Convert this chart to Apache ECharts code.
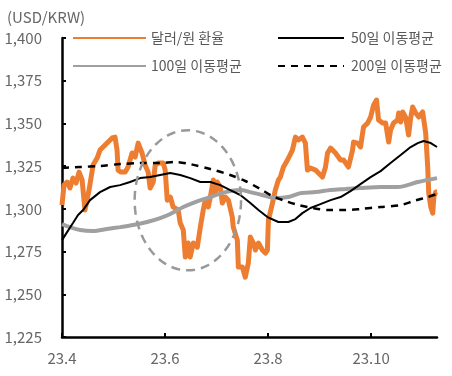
<!DOCTYPE html>
<html>
<head>
<meta charset="utf-8">
<script src="https://cdn.jsdelivr.net/npm/echarts@6/dist/echarts.min.js"></script>
<style>
html,body{margin:0;padding:0;background:#fff;}
#chart{width:452px;height:376px;}
</style>
</head>
<body>
<div id="chart"></div>
<script>
// x = days since 2023-04-01
const xTickDays = [0, 61, 122, 183];
const xTickLabels = ['23.4', '23.6', '23.8', '23.10'];
const seriesNames = ['달러/원 환율', '50일 이동평균', '100일 이동평균', '200일 이동평균'];

const fxRate = [[0,1302.2],[1.2,1313.9],[3,1315.7],[4.7,1312.2],[6.5,1318],[8.3,1315.1],[10.1,1321.5],[11.9,1316.9],[13.6,1299.3],[16,1311],[18.4,1325.6],[20.8,1329.7],[22.5,1334.4],[24.3,1336.2],[26.7,1338.5],[29.7,1341.5],[31.4,1342],[32.6,1334.4],[33.2,1322.7],[35,1321.5],[37.4,1321.5],[39.1,1324.5],[41.5,1332.7],[43.3,1330.3],[45.1,1338.5],[47.4,1332.7],[49.2,1325.6],[51,1321.5],[52.2,1312.2],[54,1315.7],[55.2,1325.6],[56.9,1326.8],[59.9,1326.8],[61.1,1322.7],[62.3,1305.1],[64.1,1306.9],[65.8,1301.1],[68.8,1299.3],[70,1291.7],[71.8,1287.6],[73,1271.8],[74.7,1280],[75.9,1271.8],[77.7,1280],[80.1,1277.6],[81.9,1289.3],[83.6,1299.3],[84.8,1305.1],[86.6,1301.1],[87.8,1306.9],[89.6,1316.9],[90.7,1309.2],[91.9,1315.7],[93.7,1312.8],[94.9,1303.4],[96.7,1306.9],[98.5,1305.1],[100.8,1295.2],[101.4,1289.3],[103.8,1281.7],[104.4,1265.9],[106.8,1265.9],[108.5,1260],[110.3,1268.3],[111.5,1283.5],[113.3,1280],[114.5,1275.9],[116.3,1280],[118.6,1275.9],[120.4,1274.1],[121.6,1275.9],[122.2,1293.4],[124.6,1303.4],[126.3,1311],[128.1,1316.9],[129.3,1318.6],[131.1,1324.5],[133.5,1328.6],[136.4,1334.4],[138.2,1342],[140,1340.3],[142.3,1342],[144.1,1338.5],[145.3,1322.7],[147.1,1323.9],[150.1,1322.7],[151.8,1321],[154.2,1318.6],[156,1324.5],[157.2,1332.7],[159,1335.6],[161.9,1332.7],[164.9,1328.6],[166.7,1328.6],[169.6,1324.5],[172,1334.4],[172.6,1339.1],[175,1338.5],[176.7,1336.2],[178.5,1347.9],[180.9,1350.2],[182.7,1353.7],[184.5,1360.8],[186.2,1363.7],[187.4,1352],[189.8,1350.2],[191.6,1350.2],[193.4,1339.1],[194.5,1346.1],[196.3,1350.2],[198.7,1352],[199.3,1356.1],[200.5,1350.8],[201.7,1356.7],[203.4,1353.7],[205.2,1343.2],[206.4,1353.2],[207.6,1359.6],[209.4,1356.1],[211.2,1353.7],[213.5,1356.7],[215.3,1344.4],[216.5,1324.5],[217.1,1309.3],[218.3,1301.1],[219.5,1297.5],[220.1,1306.9],[221.2,1309.8],[222,1309.8]];

const ma50 = [[0,1281.7],[3,1286.4],[6.5,1291.7],[9.5,1296.4],[12.5,1299.3],[16.6,1305.1],[22.5,1309.8],[28.5,1312.8],[34.4,1313.9],[40.3,1315.7],[46.3,1318],[52.2,1318.6],[58.1,1319.8],[64.1,1321],[70,1319.8],[75.9,1318],[81.9,1315.7],[87.8,1315.7],[93.7,1313.9],[99.6,1311],[105.6,1308.1],[111.5,1303.4],[116.3,1299.3],[121.6,1295.2],[128.1,1292.3],[134,1292.3],[138.2,1294],[142.3,1297.5],[147.1,1300.5],[153,1302.8],[159,1305.1],[164.9,1306.9],[170.8,1310.4],[176.7,1314.5],[182.7,1318.6],[188.6,1322.1],[194.5,1326.8],[200.5,1331.5],[206.4,1336.2],[210.6,1338.5],[214.1,1339.7],[218.3,1338.5],[222,1336.2]];

const ma100 = [[0,1291.1],[4.7,1289.3],[10.7,1287.6],[18.4,1287],[26.7,1288.2],[34.4,1289.3],[42.1,1290.5],[50.4,1292.3],[58.1,1294.6],[64.1,1297],[71.8,1301.1],[78.9,1304],[87.8,1306.9],[96.7,1309.8],[105.6,1311],[111.5,1309.8],[118.6,1308.1],[126.3,1306.3],[134,1306.9],[141.2,1309.2],[150.1,1309.8],[159,1311],[167.9,1311.6],[176.7,1312.2],[188.6,1312.8],[198.7,1312.8],[210.6,1315.7],[222,1318]];

const ma200 = [[0,1323.9],[10.7,1324.5],[22.5,1325.1],[34.4,1326.2],[46.3,1326.8],[58.1,1326.8],[67,1327.4],[75.9,1326.2],[87.8,1323.3],[99.6,1319.8],[108.5,1316.3],[117.4,1311.6],[124.6,1307.5],[132.3,1304.6],[140,1302.2],[148.3,1300.5],[157.8,1299.3],[167.9,1299.3],[176.7,1299.9],[188.6,1301.1],[200.5,1302.2],[208.2,1304.6],[216.5,1306.9],[222,1308.7]];

// highlighted region (ellipse annotation) in data units: center day, center value, half-width days, half-height value
const highlight = {cx: 74.5, cy: 1305, rx: 31.5, ry: 41};

const FONT = '"Noto Sans CJK KR", "Noto Sans", sans-serif';
const chart = echarts.init(document.getElementById('chart'), null, {renderer: 'canvas'});

const legendText = {color: '#595959', fontSize: 14, fontFamily: FONT};
const option = {
  animation: false,
  backgroundColor: '#fff',
  title: {
    text: '(USD/KRW)', left: 2, top: 5,
    textStyle: {color: '#666', fontSize: 15, fontWeight: 'normal', fontFamily: FONT}
  },
  grid: {left: 62, top: 38, right: 15, bottom: 39, containLabel: false},
  legend: [
    {orient: 'vertical', left: 67, top: 26, itemWidth: 73, itemHeight: 14, itemGap: 14,
     itemStyle: {opacity: 0}, textStyle: legendText, data: [seriesNames[0], seriesNames[2]]},
    {orient: 'vertical', left: 272, top: 26, itemWidth: 66, itemHeight: 14, itemGap: 14,
     itemStyle: {opacity: 0}, textStyle: Object.assign({}, legendText, {padding: [0, 0, 0, 2]}),
     data: [seriesNames[1], seriesNames[3]]}
  ],
  xAxis: {
    type: 'value', min: 0, max: 222, interval: 61,
    axisLine: {show: true, lineStyle: {color: '#000', width: 2.5}},
    axisTick: {show: true, inside: true, length: 4, lineStyle: {color: '#000', width: 2}, customValues: xTickDays},
    axisLabel: {
      color: '#666', fontSize: 15, fontFamily: FONT, margin: 14, customValues: xTickDays,
      formatter: v => { const i = xTickDays.indexOf(Math.round(v)); return i >= 0 ? xTickLabels[i] : ''; }
    },
    splitLine: {show: false}
  },
  yAxis: {
    type: 'value', min: 1225, max: 1400, interval: 25,
    axisLine: {show: true, lineStyle: {color: '#000', width: 2.5}},
    axisTick: {show: true, inside: true, length: 4, lineStyle: {color: '#000', width: 2}},
    axisLabel: {color: '#666', fontSize: 15, fontFamily: FONT, margin: 20,
      formatter: v => v.toLocaleString('en-US')},
    splitLine: {show: false}
  },
  series: [
    {name: seriesNames[0], type: 'line', data: fxRate, symbol: 'none', z: 2,
     lineStyle: {color: '#ED7D31', width: 5, join: 'round'}, itemStyle: {color: '#ED7D31'}},
    {name: seriesNames[2], type: 'line', data: ma100, symbol: 'none', smooth: 0.3, z: 3,
     lineStyle: {color: '#A0A0A0', width: 4}, itemStyle: {color: '#A0A0A0'}},
    {name: seriesNames[1], type: 'line', data: ma50, symbol: 'none', z: 4,
     lineStyle: {color: '#000', width: 2}, itemStyle: {color: '#000'}},
    {name: seriesNames[3], type: 'line', data: ma200, symbol: 'none', smooth: 0.3, z: 4,
     lineStyle: {color: '#000', width: 2.5, type: [7, 6]}, itemStyle: {color: '#000'}}
  ]
};
chart.setOption(option);

// dashed ellipse annotation
const c = chart.convertToPixel({xAxisIndex: 0, yAxisIndex: 0}, [highlight.cx, highlight.cy]);
const e = chart.convertToPixel({xAxisIndex: 0, yAxisIndex: 0}, [highlight.cx + highlight.rx, highlight.cy + highlight.ry]);
const rxPx = Math.abs(e[0] - c[0]), ryPx = Math.abs(c[1] - e[1]);
const pts = [];
for (let k = 0; k <= 96; k++) {
  const a = k / 96 * Math.PI * 2;
  pts.push([c[0] + rxPx * Math.cos(a), c[1] + ryPx * Math.sin(a)]);
}
chart.setOption({
  graphic: [{
    type: 'polygon', shape: {points: pts}, z: 10, silent: true,
    style: {fill: 'none', stroke: '#999', lineWidth: 2.5, lineDash: [9, 6]}
  }]
});
</script>
</body>
</html>
